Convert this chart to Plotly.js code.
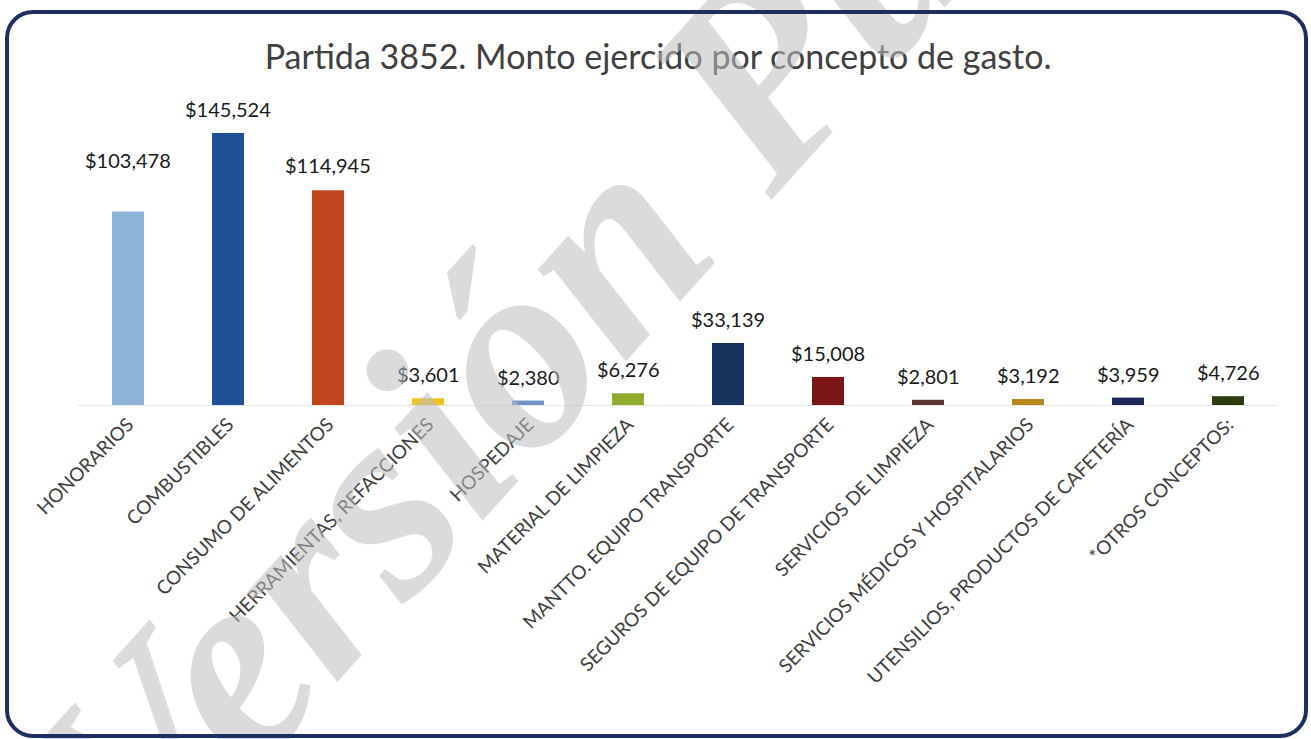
<!DOCTYPE html>
<html>
<head>
<meta charset="utf-8">
<script src="https://cdn.plot.ly/plotly-3.0.1.min.js"></script>
<style>
  html, body { margin: 0; padding: 0; overflow: hidden; background: #ffffff; }
  #chart { position: absolute; left: 0; top: 0; width: 1311px; height: 739px; }
  #frame { position: absolute; left: 5px; top: 10px; width: 1303px; height: 728px;
           box-sizing: border-box; border: 4px solid #1c2f5e; border-radius: 28px;
           pointer-events: none; }
</style>
</head>
<body>
<div id="chart"></div>
<div id="frame"></div>
<script>
const categories = [
  "HONORARIOS",
  "COMBUSTIBLES",
  "CONSUMO DE ALIMENTOS",
  "HERRAMIENTAS, REFACCIONES",
  "HOSPEDAJE",
  "MATERIAL DE LIMPIEZA",
  "MANTTO. EQUIPO TRANSPORTE",
  "SEGUROS DE EQUIPO DE TRANSPORTE",
  "SERVICIOS DE LIMPIEZA",
  "SERVICIOS MÉDICOS Y HOSPITALARIOS",
  "UTENSILIOS, PRODUCTOS DE CAFETERÍA",
  "*OTROS CONCEPTOS:"
];
const montos = [103478, 145524, 114945, 3601, 2380, 6276, 33139, 15008, 2801, 3192, 3959, 4726];
const colores = ["#8db3da", "#1f4f94", "#c2441c", "#f0c419", "#6f95c6", "#8fac2a",
                 "#17345e", "#7a1616", "#5b3434", "#b8881f", "#1d2858", "#2d3b12"];
// vertical offset (px) of each value label above its bar
const desplazamientos = [52, 24, 25, 24, 24, 24, 24, 24, 24, 24, 24, 24];

const etiquetas = montos.map(v => "$" + v.toLocaleString("en-US"));

const trace = {
  type: "bar",
  x: categories,
  y: montos,
  marker: { color: colores },
  hoverinfo: "x+y"
};

const valueLabels = categories.map((c, i) => ({
  text: etiquetas[i],
  x: c, y: montos[i], xref: "x", yref: "y",
  xanchor: "center", yanchor: "middle",
  yshift: desplazamientos[i],
  showarrow: false,
  font: { family: "Lato, 'Open Sans', sans-serif", size: 20, color: "#1a1a1a" }
}));

const layout = {
  width: 1311,
  height: 739,
  paper_bgcolor: "#ffffff",
  plot_bgcolor: "#ffffff",
  margin: { l: 78, r: 33, t: 100, b: 334, autoexpand: false },
  bargap: 0.68,
  showlegend: false,
  title: {
    text: "Partida 3852. Monto ejercido por concepto de gasto.",
    font: { family: "Lato, 'Open Sans', sans-serif", size: 34, color: "#404040" },
    x: 0.502, xanchor: "center", xref: "container",
    y: 0.923, yanchor: "middle", yref: "container"
  },
  xaxis: {
    type: "category",
    tickangle: -45,
    tickfont: { family: "Lato, 'Open Sans', sans-serif", size: 19, color: "#404040" },
    showline: true, linecolor: "#e6e6e6", linewidth: 1,
    showgrid: false, ticks: "", automargin: false
  },
  yaxis: {
    range: [0, 163200],
    visible: false,
    showgrid: false, zeroline: false
  },
  annotations: valueLabels.concat([{
    text: "Versión Pública",
    xref: "paper", yref: "paper",
    x: 0.505, y: 0.81, xanchor: "center", yanchor: "middle",
    showarrow: false,
    textangle: -48,
    font: { family: "'Liberation Serif', 'DejaVu Serif', serif", size: 277,
            color: "rgba(190,190,190,0.55)", weight: "bold", style: "italic" }
  }])
};

Plotly.newPlot("chart", [trace], layout, { displayModeBar: false, staticPlot: true });
</script>
</body>
</html>
